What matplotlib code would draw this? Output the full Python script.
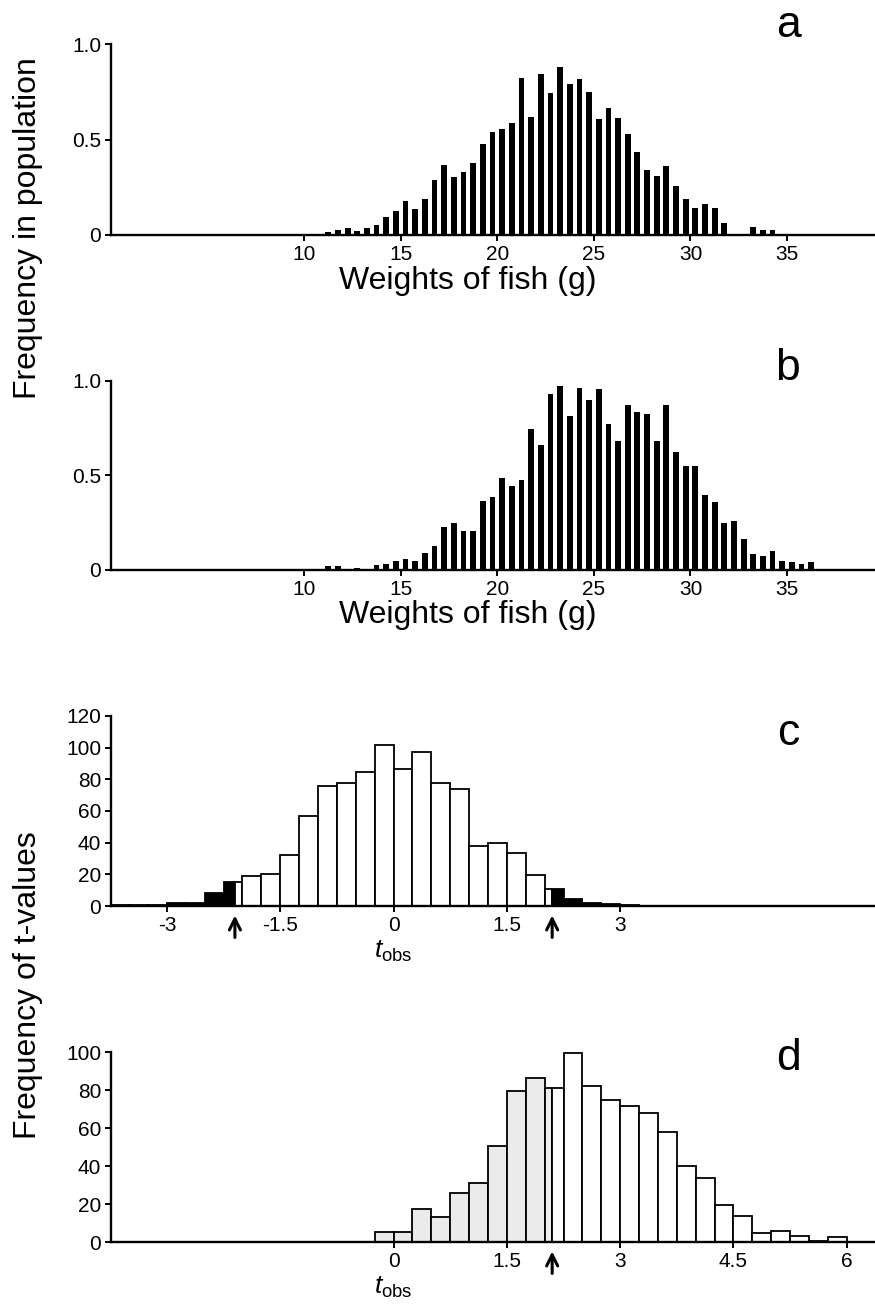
import numpy as np
import matplotlib
matplotlib.use("Agg")
import matplotlib.pyplot as plt

plt.rcParams["font.family"] = ["Liberation Sans", "DejaVu Sans"]
plt.rcParams["axes.unicode_minus"] = False
plt.rcParams["mathtext.fontset"] = "custom"
plt.rcParams["mathtext.rm"] = "Liberation Sans"
plt.rcParams["mathtext.it"] = "Liberation Sans:italic"

# panels a, b: frequency of fish weights, 0.5 g classes, first class centred at 10.75 g
weight_start = 10.75
pop_a = [0.005, 0.014, 0.024, 0.038, 0.02, 0.035, 0.05, 0.096, 0.127, 0.176,
         0.138, 0.19, 0.288, 0.365, 0.305, 0.33, 0.379, 0.475, 0.54, 0.557,
         0.588, 0.822, 0.616, 0.841, 0.745, 0.881, 0.79, 0.815, 0.75, 0.606,
         0.663, 0.614, 0.529, 0.435, 0.34, 0.309, 0.363, 0.258, 0.19, 0.14,
         0.164, 0.143, 0.065, 0.007, 0.004, 0.044, 0.028, 0.028, 0.0, 0.0,
         0.0, 0.006]
pop_b = [0.004, 0.02, 0.021, 0.004, 0.009, 0.003, 0.025, 0.03, 0.05, 0.06,
         0.046, 0.088, 0.125, 0.228, 0.247, 0.208, 0.208, 0.365, 0.388, 0.489,
         0.446, 0.474, 0.744, 0.66, 0.929, 0.975, 0.817, 0.965, 0.901, 0.956,
         0.772, 0.68, 0.875, 0.836, 0.824, 0.68, 0.873, 0.626, 0.55, 0.55,
         0.399, 0.36, 0.247, 0.259, 0.162, 0.086, 0.076, 0.102, 0.05, 0.044,
         0.034, 0.04, 0.003, 0.003, 0.006, 0.003, 0.006]

# panels c, d: frequency of t-values, 0.25 wide classes
t_width = 0.25
c_start = -3.75
t_null = [0.5, 0.5, 0.5, 2, 2, 8, 15, 19, 20, 32, 57, 76, 77.5, 84.5, 102,
          86.5, 97.5, 78, 74, 38, 39.5, 33.5, 19.5, 11, 4.6, 1.7, 1.5, 0.7, 0.3]
d_start = -0.25
t_alt = [5.3, 5.3, 17.3, 12.9, 26, 30.8, 50.7, 79.6, 86.3, 81, 99.5, 82.2,
         74.8, 71.7, 68.1, 58.1, 40, 33.8, 19.7, 13.7, 5, 6, 3, 0.3, 2.5]
t_crit = 2.1

weight_ticks = [10, 15, 20, 25, 30, 35]
pop_ticks = [0, 0.5, 1.0]
pop_labels = ["0", "0.5", "1.0"]
c_ticks = [-3, -1.5, 0, 1.5, 3]
c_labels = ["-3", "-1.5", "0", "1.5", "3"]
d_ticks = [0, 1.5, 3, 4.5, 6]
d_labels = ["0", "1.5", "3", "4.5", "6"]

W, H = 875, 1308
fig = plt.figure(figsize=(W / 100, H / 100), dpi=100)


def box(left, top, right, bottom):
    return [left / W, 1 - bottom / H, (right - left) / W, (bottom - top) / H]


def style(ax):
    for s in ["top", "right"]:
        ax.spines[s].set_visible(False)
    for s in ["left", "bottom"]:
        ax.spines[s].set_linewidth(1.7)
    ax.tick_params(direction="out", length=4, width=1.4, labelsize=15, pad=3)


def weight_panel(ax, values):
    centres = weight_start + 0.5 * np.arange(len(values))
    ax.bar(centres, values, width=0.3, color="black")
    ax.set_xlim(0, 39.5)
    ax.set_ylim(0, 1.0)
    ax.set_xticks(weight_ticks)
    ax.set_yticks(pop_ticks)
    ax.set_yticklabels(pop_labels)
    ax.set_xlabel("Weights of fish (g)", fontsize=23)
    ax.xaxis.set_label_coords(0.467, -0.16)
    style(ax)


def t_panel(ax, start, counts, colours, cuts):
    # colours[k] fills the part of a class between cuts[k-1] and cuts[k]
    edges = [-np.inf] + cuts + [np.inf]
    for i, h in enumerate(counts):
        lo = start + i * t_width
        hi = lo + t_width
        for k, col in enumerate(colours):
            a, b = max(lo, edges[k]), min(hi, edges[k + 1])
            if b > a:
                ax.bar(a, h, width=b - a, align="edge", facecolor=col,
                       edgecolor="black", linewidth=1.3)
    ax.set_xlim(-3.74, 6.36)
    style(ax)
    tr = ax.get_xaxis_transform()
    for x in cuts:
        ax.annotate("", xy=(x, -0.035), xycoords=tr, xytext=(x, -0.18),
                    textcoords=tr, annotation_clip=False,
                    arrowprops=dict(arrowstyle="->", lw=2.2, color="black",
                                    mutation_scale=20))
    ax.text(0, -0.17, r"$t_{\mathrm{obs}}$", transform=tr, ha="center",
            va="top", fontsize=19)


ax_a = fig.add_axes(box(111, 44, 874, 235))
weight_panel(ax_a, pop_a)
ax_b = fig.add_axes(box(111, 381, 874, 570))
weight_panel(ax_b, pop_b)

ax_c = fig.add_axes(box(111, 716, 874, 906))
t_panel(ax_c, c_start, t_null, ["black", "white", "black"], [-t_crit, t_crit])
ax_c.set_ylim(0, 120)
ax_c.set_yticks([0, 20, 40, 60, 80, 100, 120])
ax_c.set_xticks(c_ticks)
ax_c.set_xticklabels(c_labels)

ax_d = fig.add_axes(box(111, 1052, 874, 1242))
t_panel(ax_d, d_start, t_alt, ["#ebebeb", "white"], [t_crit])
ax_d.set_ylim(0, 100)
ax_d.set_yticks([0, 20, 40, 60, 80, 100])
ax_d.set_xticks(d_ticks)
ax_d.set_xticklabels(d_labels)

fig.text(28 / W, 1 - 228 / H, "Frequency in population", rotation=90,
         ha="center", va="center", fontsize=23)
fig.text(28 / W, 1 - 985 / H, "Frequency of t-values", rotation=90,
         ha="center", va="center", fontsize=23)

for letter, y in zip("abcd", [37, 380, 745, 1070]):
    fig.text(788 / W, 1 - y / H, letter, ha="center", va="baseline",
             fontsize=32)

fig.savefig("out.png", dpi=100)
